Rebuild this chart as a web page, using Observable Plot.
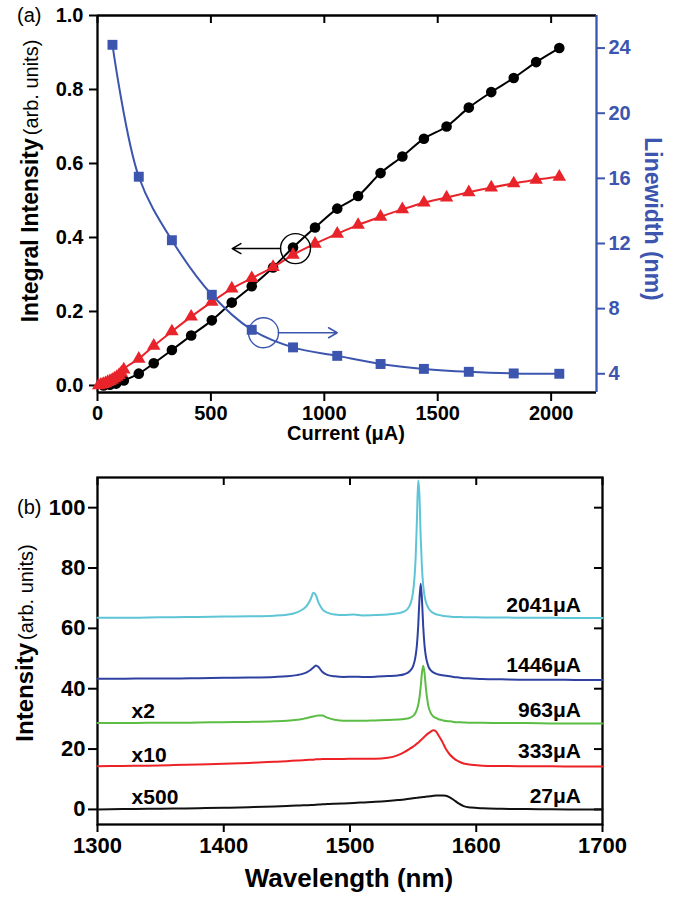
<!DOCTYPE html>
<html>
<head>
<meta charset="utf-8">
<script src="https://cdn.jsdelivr.net/npm/d3@7"></script>
<script src="https://cdn.jsdelivr.net/npm/@observablehq/plot@0.6"></script>
<style>
  body { margin: 0; background: #fff; }
  #chart { width: 689px; }
  #chart svg { display: block; }
</style>
</head>
<body>
<div id="chart"></div>
<script>
// ---------------- Panel (a) data ----------------
const blackCurrent   = [27, 55, 82, 116, 182, 248, 328, 413, 504, 592, 680, 774, 862, 959, 1057, 1149, 1248, 1344, 1439, 1539, 1637, 1736, 1835, 1934, 2036];
const blackIntensity = [0.000, 0.002, 0.005, 0.0135, 0.032, 0.060, 0.096, 0.135, 0.176, 0.224, 0.268, 0.319, 0.373, 0.427, 0.478, 0.512, 0.574, 0.619, 0.667, 0.700, 0.751, 0.793, 0.831, 0.874, 0.912];

const redCurrent   = [5, 15, 25, 35, 45, 55, 65, 75, 85, 95, 105, 116, 182, 248, 328, 413, 504, 592, 680, 774, 862, 959, 1057, 1149, 1248, 1344, 1439, 1539, 1637, 1736, 1835, 1934, 2036];
const redIntensity = [0.000, 0.002, 0.004, 0.006, 0.009, 0.012, 0.015, 0.019, 0.023, 0.028, 0.034, 0.043, 0.072, 0.107, 0.146, 0.186, 0.226, 0.262, 0.290, 0.320, 0.353, 0.383, 0.410, 0.434, 0.456, 0.476, 0.494, 0.508, 0.522, 0.535, 0.546, 0.556, 0.564];

const blueCurrent   = [66, 182, 328, 504, 680, 862, 1057, 1248, 1439, 1637, 1835, 2036];
const blueLinewidth = [24.2, 16.1, 12.2, 8.85, 6.7, 5.62, 5.1, 4.6, 4.3, 4.12, 4.02, 4.0];

const xTicksA = [0, 500, 1000, 1500, 2000];
const yTicksA = [0.0, 0.2, 0.4, 0.6, 0.8, 1.0];
const lwTicks = [4, 8, 12, 16, 20, 24];

// annotation marks (data space)
const blackRing  = [{c: 873, v: 0.37}];
const blackArrow = [{c1: 807, c2: 594, v: 0.37}];
const blueRing   = [{c: 732, w: 6.52}];
const blueArrow  = [{c1: 797, c2: 1057, w: 6.52}];

// ---------------- Panel (b) data ----------------
const wavelength = [1300, 1320, 1340, 1360, 1380, 1400, 1420, 1440, 1450, 1458,
  1463, 1466, 1469, 1471, 1473, 1475, 1478, 1482, 1488, 1495,
  1503, 1510, 1520, 1530, 1538, 1543, 1547, 1550, 1552, 1553,
  1554, 1555, 1556, 1557, 1558, 1559, 1560, 1562, 1564, 1566,
  1568, 1570, 1573, 1576, 1579, 1582, 1586, 1590, 1596, 1605,
  1620, 1640, 1660, 1680, 1700];

const spec2041 = [63.5, 63.5, 63.6, 63.7, 63.8, 63.9, 64.0, 64.2, 64.5, 65.3,
  66.4, 67.6, 69.8, 71.8, 71.0, 68.6, 66.4, 65.2, 64.6, 64.4,
  64.6, 64.3, 64.4, 64.6, 65.0, 65.6, 67.3, 72.2, 83.6, 95.9,
  109.0, 104.2, 90.2, 80.0, 74.2, 70.9, 68.9, 66.8, 65.7, 65.1,
  64.7, 64.5, 64.2, 64.0, 63.9, 63.8, 63.8, 63.7, 63.7, 63.6,
  63.6, 63.5, 63.5, 63.4, 63.4];

const spec1446 = [43.3, 43.3, 43.4, 43.4, 43.5, 43.6, 43.7, 43.9, 44.1, 44.5,
  45.0, 45.5, 46.3, 47.0, 47.7, 47.2, 45.6, 44.6, 44.1, 43.9,
  44.0, 43.9, 44.0, 44.2, 44.4, 44.8, 45.7, 47.5, 51.0, 54.5,
  60.6, 69.5, 74.8, 69.5, 60.6, 54.5, 51.0, 47.5, 46.1, 45.4,
  45.0, 44.7, 44.5, 44.3, 44.1, 43.9, 43.7, 43.5, 43.4, 43.2,
  43.1, 43.0, 43.0, 42.9, 42.9];

const spec963 = [28.6, 28.6, 28.7, 28.7, 28.8, 28.9, 29.0, 29.2, 29.4, 29.7,
  30.0, 30.3, 30.6, 30.8, 31.0, 31.1, 31.1, 30.4, 29.7, 29.4,
  29.4, 29.4, 29.5, 29.6, 29.8, 30.0, 30.3, 31.0, 32.1, 33.1,
  34.6, 37.0, 40.7, 45.3, 47.6, 45.3, 40.7, 34.4, 31.9, 30.8,
  30.3, 29.9, 29.6, 29.3, 29.2, 29.0, 28.9, 28.8, 28.7, 28.7,
  28.6, 28.6, 28.5, 28.5, 28.5];

const spec333 = [14.3, 14.4, 14.5, 14.7, 14.9, 15.1, 15.4, 15.8, 16.0, 16.2,
  16.3, 16.4, 16.5, 16.5, 16.6, 16.6, 16.7, 16.7, 16.7, 16.7,
  16.8, 16.8, 16.8, 17.1, 18.0, 19.0, 20.0, 20.8, 21.4, 21.8,
  22.1, 22.5, 22.9, 23.3, 23.7, 24.1, 24.5, 25.2, 25.8, 26.2,
  25.9, 24.6, 22.5, 20.0, 18.2, 17.0, 15.9, 15.2, 14.8, 14.5,
  14.4, 14.3, 14.3, 14.2, 14.2];

const spec27 = [0.0, 0.1, 0.2, 0.3, 0.4, 0.55, 0.75, 1.0, 1.15, 1.3,
  1.35, 1.4, 1.45, 1.5, 1.55, 1.6, 1.7, 1.8, 1.9, 2.0,
  2.15, 2.3, 2.5, 2.8, 3.1, 3.3, 3.5, 3.7, 3.8, 3.85,
  3.9, 3.95, 4.0, 4.05, 4.1, 4.15, 4.2, 4.3, 4.4, 4.5,
  4.6, 4.65, 4.6, 4.5, 4.0, 3.2, 2.0, 1.1, 0.6, 0.35,
  0.2, 0.1, 0.05, 0.0, 0.0];

const xTicksB = [1300, 1400, 1500, 1600, 1700];
const yTicksB = [0, 20, 40, 60, 80, 100];

const currentLabels = ["2041μA", "1446μA", "963μA", "333μA", "27μA"];
const currentLabelY = [67.5, 47.9, 32.8, 19.3, 4.4];
const currentLabelX = 1683;
const scaleLabels = ["x2", "x10", "x500"];
const scaleLabelY = [32.4, 18.0, 4.1];
const scaleLabelX = 1327;

// ---------------- styling ----------------
const FONT = "'Liberation Sans', Arial, Helvetica, sans-serif";
const BLUE_A = "#3c55ae";
const RED_A = "#e8232a";
const specColors = {s2041: "#5ec5d6", s1446: "#2f41a0", s963: "#5cbd45", s333: "#ec2227", s27: "#111111"};

// ================= Panel (a) =================
const currentDomain = [0, 2200];
const intensityDomain = [-0.019, 1.0];
const linewidthDomain = [2.85, 26];
const toLeft = d3.scaleLinear(linewidthDomain, intensityDomain);

const hA = 445, mTopA = 15, mBotA = 53, mLeftA = 97, mRightA = 93;
const innerHA = hA - mTopA - mBotA;

const blackPts = blackCurrent.map((c, i) => ({c, v: blackIntensity[i]}));
const redPts = redCurrent.map((c, i) => ({c, v: redIntensity[i]}));
const bluePts = blueCurrent.map((c, i) => ({c, w: blueLinewidth[i]}));

const plotA = Plot.plot({
  width: 689, height: hA,
  marginTop: mTopA, marginBottom: mBotA, marginLeft: mLeftA, marginRight: mRightA,
  style: {fontFamily: FONT, fontSize: "20px", fontWeight: "bold", color: "#000", background: "#fff", overflow: "visible"},
  x: {domain: currentDomain},
  y: {domain: intensityDomain},
  marks: [
    Plot.ruleX([currentDomain[0]], {stroke: "#000", strokeWidth: 2.3}),
    Plot.ruleY([intensityDomain[0]], {stroke: "#000", strokeWidth: 2.3}),
    Plot.ruleY([intensityDomain[1]], {stroke: "#000", strokeWidth: 2.3}),
    Plot.ruleX([currentDomain[1]], {stroke: BLUE_A, strokeWidth: 2.3}),
    Plot.axisX(xTicksA, {tickSize: 9, tickPadding: 4, tickFormat: "d", fontSize: 20, label: null, strokeWidth: 2}),
    Plot.tickX(xTicksA, {x: d => d, insetBottom: innerHA - 8, stroke: "#000", strokeWidth: 2}),
    Plot.axisY(yTicksA, {tickSize: 8, tickPadding: 6, tickFormat: ".1f", fontSize: 20, label: null, strokeWidth: 2}),
    Plot.axisY(lwTicks.map(t => toLeft(t)), {anchor: "right", tickSize: 8, tickPadding: 4, fontSize: 20,
      tickFormat: d => String(Math.round(toLeft.invert(d))), color: BLUE_A, label: null, strokeWidth: 2}),
    // integral intensity (black)
    Plot.line(blackPts, {x: "c", y: "v", curve: "monotone-x", stroke: "#000", strokeWidth: 2}),
    Plot.dot(blackPts, {x: "c", y: "v", r: 5.3, fill: "#000"}),
    // red triangles
    Plot.line(redPts, {x: "c", y: "v", curve: "monotone-x", stroke: RED_A, strokeWidth: 2}),
    Plot.dot(redPts, {x: "c", y: "v", symbol: "triangle", r: 5, fill: RED_A}),
    // linewidth (blue, right axis)
    Plot.line(bluePts, {x: "c", y: d => toLeft(d.w), curve: "catmull-rom", stroke: BLUE_A, strokeWidth: 2}),
    Plot.dot(bluePts, {x: "c", y: d => toLeft(d.w), symbol: "square", r: 5.6, fill: BLUE_A}),
    // annotations
    Plot.dot(blackRing, {x: "c", y: "v", r: 15, fill: "none", stroke: "#000", strokeWidth: 1.4}),
    Plot.arrow(blackArrow, {x1: "c1", x2: "c2", y1: "v", y2: "v", stroke: "#000", strokeWidth: 1.5, headLength: 10}),
    Plot.dot(blueRing, {x: "c", y: d => toLeft(d.w), r: 15, fill: "none", stroke: BLUE_A, strokeWidth: 1.4}),
    Plot.arrow(blueArrow, {x1: "c1", x2: "c2", y1: d => toLeft(d.w), y2: d => toLeft(d.w), stroke: BLUE_A, strokeWidth: 1.5, headLength: 10})
  ]
});

// ================= Panel (b) =================
const wlDomain = [1300, 1700];
const intDomainB = [-5, 110];
const hB = 452, mTopB = 32, mBotB = 73, mLeftB = 97, mRightB = 87;
const innerWB = 689 - mLeftB - mRightB;
const innerHB = hB - mTopB - mBotB;

const series = [
  {key: "s27", values: spec27},
  {key: "s333", values: spec333},
  {key: "s963", values: spec963},
  {key: "s1446", values: spec1446},
  {key: "s2041", values: spec2041}
];
const spectra = series.flatMap(s => wavelength.map((wl, i) => ({wl, v: s.values[i], key: s.key})));
const curLabelData = currentLabels.map((t, i) => ({t, wl: currentLabelX, v: currentLabelY[i]}));
const scaleLabelData = scaleLabels.map((t, i) => ({t, wl: scaleLabelX, v: scaleLabelY[i]}));

const plotB = Plot.plot({
  width: 689, height: hB,
  marginTop: mTopB, marginBottom: mBotB, marginLeft: mLeftB, marginRight: mRightB,
  style: {fontFamily: FONT, fontSize: "22px", fontWeight: "bold", color: "#000", background: "#fff", overflow: "visible"},
  x: {domain: wlDomain},
  y: {domain: intDomainB},
  color: {domain: Object.keys(specColors), range: Object.values(specColors)},
  marks: [
    Plot.frame({stroke: "#000", strokeWidth: 2.3}),
    Plot.axisX(xTicksB, {tickSize: 8, tickPadding: 5, tickFormat: "d", fontSize: 22, label: null, strokeWidth: 2}),
    Plot.tickX(xTicksB, {x: d => d, insetBottom: innerHB - 8, stroke: "#000", strokeWidth: 2}),
    Plot.axisY(yTicksB, {tickSize: 9, tickPadding: 3, tickFormat: "d", fontSize: 22, label: null, strokeWidth: 2}),
    Plot.tickY(yTicksB, {y: d => d, insetLeft: innerWB - 8, stroke: "#000", strokeWidth: 2}),
    Plot.line(spectra, {x: "wl", y: "v", z: "key", stroke: "key", curve: "monotone-x", strokeWidth: 2}),
    Plot.text(curLabelData, {x: "wl", y: "v", text: "t", textAnchor: "end", fontSize: 21, fontWeight: "bold", fill: "#000"}),
    Plot.text(scaleLabelData, {x: "wl", y: "v", text: "t", textAnchor: "start", fontSize: 21, fontWeight: "bold", fill: "#000"})
  ]
});

// ---------------- titles & axis labels ----------------
function addRotLabel(svg, x, y, angle, parts, fill) {
  const t = d3.select(svg).append("text")
    .attr("transform", `translate(${x},${y}) rotate(${angle})`)
    .attr("text-anchor", "middle")
    .attr("fill", fill || "#000")
    .style("font-family", FONT);
  parts.forEach(p => {
    t.append("tspan").style("font-size", p.size + "px").style("font-weight", p.weight).attr("dx", p.dx || 0).text(p.text);
  });
}

function addText(svg, x, y, txt, size, weight, anchor) {
  d3.select(svg).append("text")
    .attr("x", x).attr("y", y)
    .attr("text-anchor", anchor || "start")
    .style("font-family", FONT).style("font-size", size + "px").style("font-weight", weight)
    .attr("fill", "#000")
    .text(txt);
}

addText(plotA, 17, 22, "(a)", 20, "normal");
addRotLabel(plotA, 38, 181, -90, [
  {text: "Integral Intensity", size: 23, weight: "bold"},
  {text: "(arb. units)", size: 20, weight: "normal", dx: 3}
]);
addRotLabel(plotA, 645, 219, 90, [{text: "Linewidth (nm)", size: 23, weight: "bold"}], BLUE_A);
addText(plotA, 346, 440, "Current (μA)", 20, "bold", "middle");

addText(plotB, 17, 69, "(b)", 20, "normal");
addRotLabel(plotB, 33, 198, -90, [
  {text: "Intensity", size: 24, weight: "bold"},
  {text: "(arb. units)", size: 20, weight: "normal", dx: 3}
]);
addText(plotB, 349, 442, "Wavelength (nm)", 26, "bold", "middle");

const chart = document.getElementById("chart");
chart.appendChild(plotA);
chart.appendChild(plotB);
</script>
</body>
</html>
